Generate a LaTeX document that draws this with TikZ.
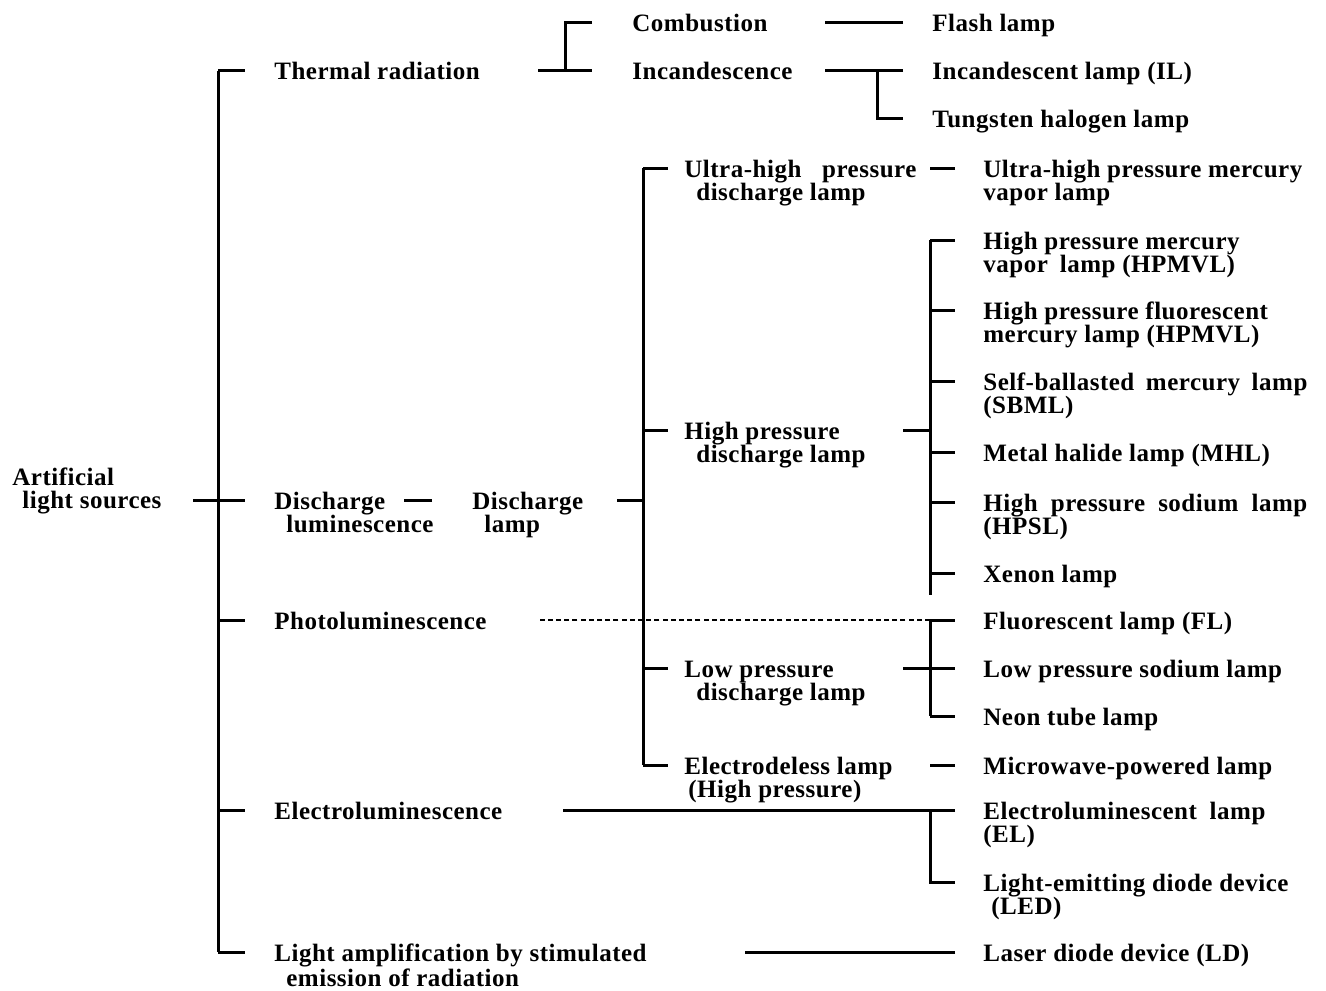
\documentclass[tikz,border=0pt]{standalone}
\usepackage{fontspec}
\usepackage{tikz}
\newfontfamily\lampfont{Liberation Serif Bold}[LetterSpace=2]
\newcommand{\twolines}[3][0pt]{\vtop{\hbox{#2}\hbox{\kern#1#3}}}
\newcommand{\spread}[2]{\makebox[#1][s]{#2}}

\begin{document}
\begin{tikzpicture}[x=0.5pt, y=-0.5pt,
  lbl/.style={anchor=west, inner sep=0pt, text height=9pt, text depth=0pt,
    font=\lampfont\fontsize{12.5}{11.5}\selectfont},
  branch/.style={line width=1.5pt},
  optic/.style={line width=0.8pt, dash pattern=on 2.5pt off 1.6pt}]
\useasboundingbox (0,0) rectangle (1326,990);

\coordinate (trunk) at (218,500);
\coordinate (thbar) at (565,71);
\coordinate (incbar) at (877,71);
\coordinate (dbar) at (643,500);
\coordinate (hpbar) at (930,430);
\coordinate (lpbar) at (930,668);
\coordinate (elbar) at (930,810);

\node[lbl] (root) at (12,476) {\twolines[5pt]{Artificial}{light sources}};
\node[lbl] (thermal) at (274,71) {Thermal radiation};
\node[lbl] (dislum) at (274,500) {\twolines[6pt]{Discharge}{luminescence}};
\node[lbl] (photo) at (274,620) {Photoluminescence};
\node[lbl] (electro) at (274,810) {Electroluminescence};
\node[lbl] (laser) at (274,952) {\twolines[6pt]{Light amplification by stimulated}{emission of radiation}};

\node[lbl] (combust) at (632,23) {Combustion};
\node[lbl] (incand) at (632,71) {Incandescence};
\node[lbl] (flash) at (932,23) {Flash lamp};
\node[lbl] (il) at (932,71) {Incandescent lamp (IL)};
\node[lbl] (halogen) at (932,118) {Tungsten halogen lamp};

\node[lbl] (dlamp) at (472,500) {\twolines[6pt]{Discharge}{lamp}};
\node[lbl] (uhp) at (684,168) {\twolines[6pt]{\spread{116pt}{Ultra-high pressure}}{discharge lamp}};
\node[lbl] (hp) at (684,430) {\twolines[6pt]{High pressure}{discharge lamp}};
\node[lbl] (lp) at (684,668) {\twolines[6pt]{Low pressure}{discharge lamp}};
\node[lbl] (edl) at (684,765) {\twolines[2pt]{Electrodeless lamp}{(High pressure)}};

\node[lbl] (uhpm) at (983,168) {\twolines{Ultra-high pressure mercury}{vapor lamp}};
\node[lbl] (hpmv) at (983,240) {\twolines{High pressure mercury}{vapor\hspace{6pt}lamp (HPMVL)}};
\node[lbl] (hpfm) at (983,310) {\twolines{High pressure fluorescent}{mercury lamp (HPMVL)}};
\node[lbl] (sbml) at (983,381) {\twolines{\spread{162pt}{Self-ballasted mercury lamp}}{(SBML)}};
\node[lbl] (mhl) at (983,452) {Metal halide lamp (MHL)};
\node[lbl] (hpsl) at (983,502) {\twolines{\spread{162pt}{High pressure sodium lamp}}{(HPSL)}};
\node[lbl] (xenon) at (983,573) {Xenon lamp};
\node[lbl] (fl) at (983,620) {Fluorescent lamp (FL)};
\node[lbl] (lps) at (983,668) {Low pressure sodium lamp};
\node[lbl] (neon) at (983,716) {Neon tube lamp};
\node[lbl] (mw) at (983,765) {Microwave-powered lamp};
\node[lbl] (el) at (983,810) {\twolines{\spread{141pt}{Electroluminescent lamp}}{(EL)}};
\node[lbl] (led) at (983,882) {\twolines[4pt]{Light-emitting diode device}{(LED)}};
\node[lbl] (ld) at (983,952) {Laser diode device (LD)};

\draw[branch] (trunk) -- ++(-25,0);
\draw[branch] (trunk |- thermal) -- (trunk |- laser);
\foreach \n in {thermal,dislum,photo,electro,laser}
  \draw[branch] (trunk |- \n) -- ([xshift=-14.5pt]\n.west);

\draw[branch] ([xshift=-20pt]combust.west) -| (thbar) -- ++(-27,0);
\draw[branch] (thbar) -- ([xshift=-20pt]incand.west);
\draw[branch] ([xshift=-14.5pt]flash.west) -- ++(-78,0);
\draw[branch] ([xshift=-14.5pt]il.west) -- ++(-78,0);
\draw[branch] (incbar) |- ([xshift=-14.5pt]halogen.west);

\draw[branch] ([xshift=-20pt]dlamp.west) -- ++(-28,0);
\draw[branch] (dbar) -- ++(-26,0);
\draw[branch] (dbar |- uhp) -- (dbar |- edl);
\foreach \n in {uhp,hp,lp,edl}
  \draw[branch] (dbar |- \n) -- ([xshift=-8pt]\n.west);

\draw[branch] ([xshift=-14pt]uhpm.west) -- ++(-25,0);
\draw[branch] (hpbar) -- ++(-27,0);
\draw[branch] (hpbar |- hpmv) -- ++(0,355);
\foreach \n in {hpmv,hpfm,sbml,mhl,hpsl,xenon}
  \draw[branch] (hpbar |- \n) -- ([xshift=-14pt]\n.west);

\draw[optic] (lpbar |- fl) -- ++(-393,0);
\draw[branch] (lpbar) -- ++(-27,0);
\draw[branch] (lpbar |- fl) -- (lpbar |- neon);
\foreach \n in {fl,lps,neon}
  \draw[branch] (lpbar |- \n) -- ([xshift=-14pt]\n.west);
\draw[branch] ([xshift=-14pt]mw.west) -- ++(-25,0);

\draw[branch] ([xshift=-14pt]el.west) -- ++(-392,0);
\draw[branch] (elbar) |- ([xshift=-14pt]led.west);
\draw[branch] ([xshift=-14pt]ld.west) -- ++(-210,0);
\end{tikzpicture}
\end{document}
